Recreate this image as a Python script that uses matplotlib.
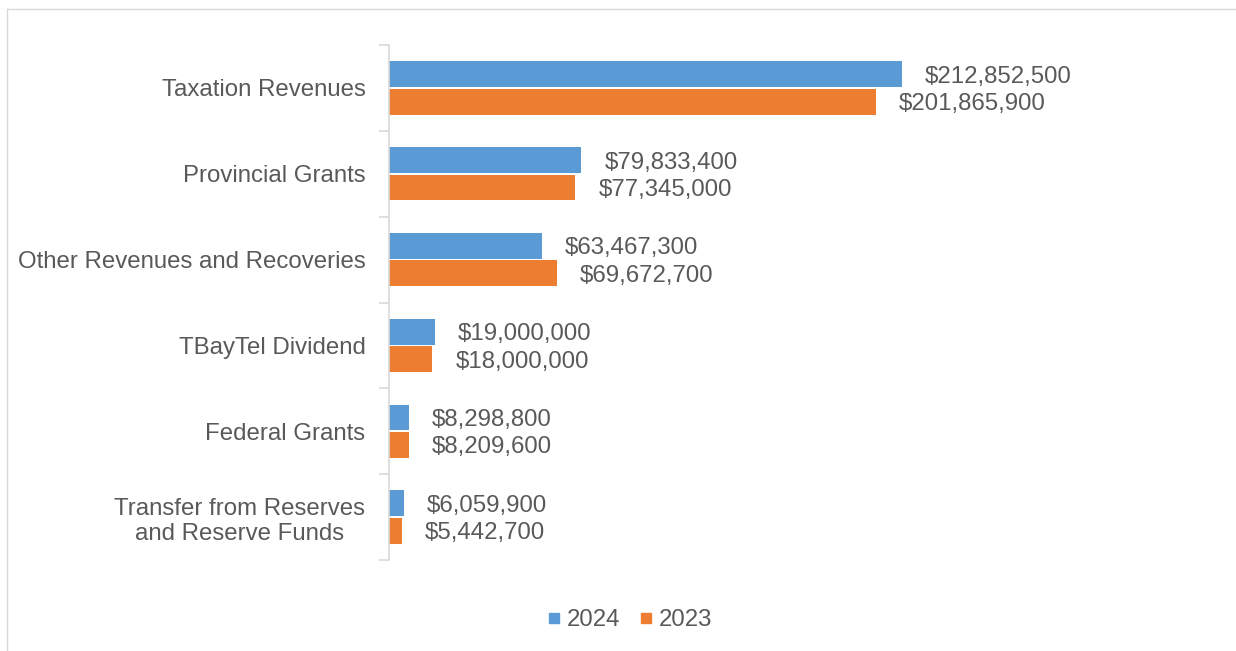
import numpy as np
import matplotlib.pyplot as plt
from matplotlib.lines import Line2D

plt.rcParams['font.family'] = ['Liberation Sans', 'DejaVu Sans']

# revenue sources, top to bottom
categories = ['Taxation Revenues', 'Provincial Grants', 'Other Revenues and Recoveries',
              'TBayTel Dividend', 'Federal Grants', 'Transfer from Reserves\nand Reserve Funds']
values_2024 = [212852500, 79833400, 63467300, 19000000, 8298800, 6059900]
values_2023 = [201865900, 77345000, 69672700, 18000000, 8209600, 5442700]

blue = '#5B9BD5'
orange = '#ED7D31'
text_gray = '#595959'
line_gray = '#D9D9D9'
fs = 17.3

W, H = 1236, 651
fig = plt.figure(figsize=(W / 100, H / 100), dpi=100)
ax = fig.add_axes([389 / W, (H - 560) / H, (1180 - 389) / W, (560 - 45) / H])

# light outer frame
fig.add_artist(Line2D([7 / W, 7 / W], [0, (H - 9) / H], color=line_gray, lw=1))
fig.add_artist(Line2D([7 / W, 1.0], [(H - 9) / H, (H - 9) / H], color=line_gray, lw=1))

y = np.arange(len(categories))
h = 0.3
ax.barh(y - 0.16, values_2024, height=h, color=blue, label='2024')
ax.barh(y + 0.16, values_2023, height=h, color=orange, label='2023')

px_per_unit = (902 - 389) / 212852500
xmax = (1180 - 389) / px_per_unit
ax.set_xlim(0, xmax)
ax.set_ylim(len(categories) - 0.5, -0.5)

offset = 23 / px_per_unit
for yy, v in zip(y - 0.16, values_2024):
    ax.text(v + offset, yy, f'${v:,}', va='center_baseline', ha='left', fontsize=fs, color=text_gray)
for yy, v in zip(y + 0.16, values_2023):
    ax.text(v + offset, yy, f'${v:,}', va='center_baseline', ha='left', fontsize=fs, color=text_gray)

for s in ['top', 'right', 'bottom']:
    ax.spines[s].set_visible(False)
ax.spines['left'].set_color(line_gray)
ax.spines['left'].set_linewidth(1.2)

ax.set_xticks([])
ax.set_yticks(np.arange(-0.5, len(categories), 1.0))
ax.set_yticklabels([])
ax.tick_params(axis='y', which='major', length=7, width=1.2, color=line_gray)
ax.set_yticks(y, minor=True)
ax.set_yticklabels(categories, minor=True, fontsize=fs, color=text_gray, multialignment='center')
ax.tick_params(axis='y', which='minor', length=0, pad=17)

handles = [Line2D([], [], marker='s', ls='', color=blue, markersize=7),
           Line2D([], [], marker='s', ls='', color=orange, markersize=7)]
fig.legend(handles, ['2024', '2023'], loc='center', bbox_to_anchor=(630 / W, (H - 620) / H),
           ncol=2, frameon=False, fontsize=fs, labelcolor=text_gray,
           handlelength=0.5, handletextpad=0.3, columnspacing=0.8)

fig.savefig('out.png', dpi=100)
